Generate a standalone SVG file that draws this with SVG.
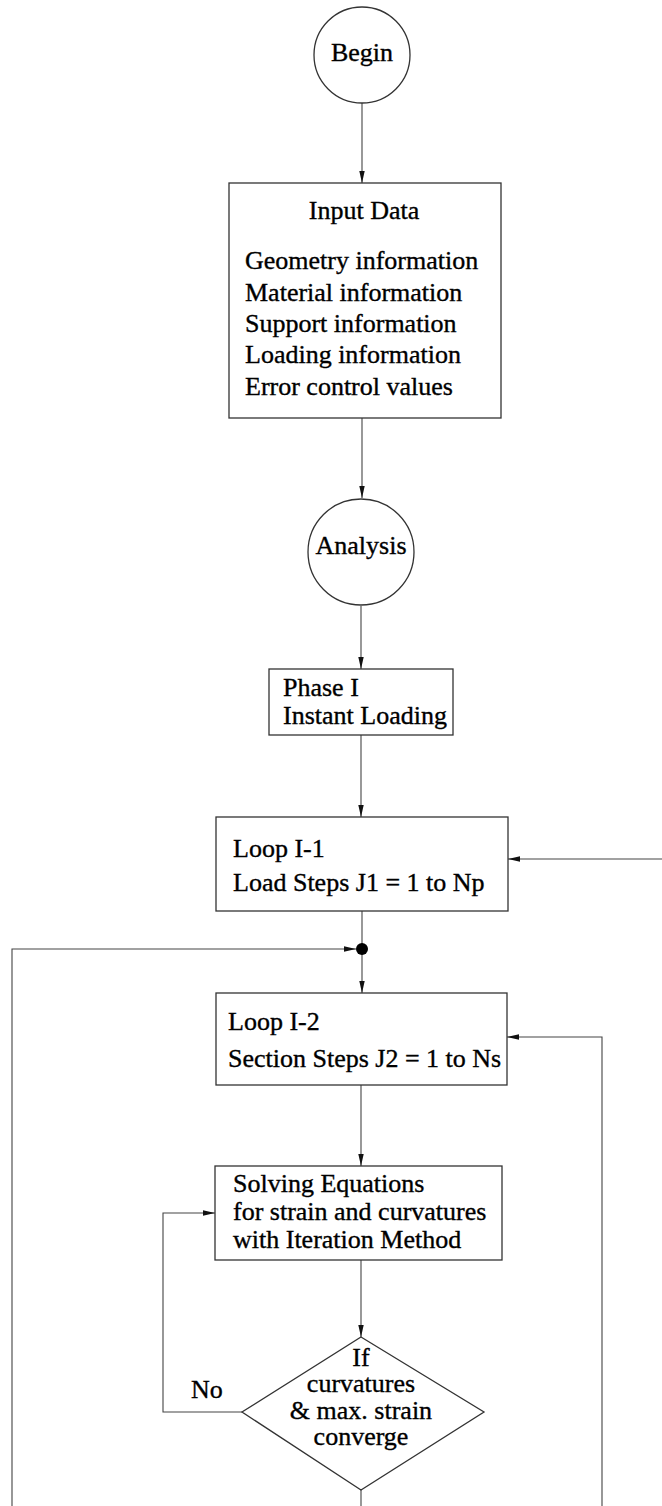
<svg xmlns="http://www.w3.org/2000/svg" width="662" height="1506" viewBox="0 0 662 1506">
<style>
.sh{fill:#fff;stroke:#333;stroke-width:1.3}
.t{font-family:"Liberation Serif","Times New Roman",serif;font-size:26px;fill:#000;stroke:#000;stroke-width:0.35}
.c{text-anchor:middle}
.ln{fill:none;stroke:#444;stroke-width:1.1}
</style>
<defs>
<marker id="ah" viewBox="0 0 12 7" refX="12" refY="3.5" markerWidth="12" markerHeight="7" markerUnits="userSpaceOnUse" orient="auto">
<path d="M0,0.8 L12,3.5 L0,6.2 z" fill="#111"/>
</marker>
</defs>
<rect width="662" height="1506" fill="#fff"/>
<g id="connectors">
<path class="ln" d="M362,103 V183" marker-end="url(#ah)"/>
<path class="ln" d="M362,418 V498" marker-end="url(#ah)"/>
<path class="ln" d="M361,606 V669" marker-end="url(#ah)"/>
<path class="ln" d="M361,735 V817" marker-end="url(#ah)"/>
<path class="ln" d="M362,911 V945"/>
<path class="ln" d="M362,953 V993" marker-end="url(#ah)"/>
<path class="ln" d="M12,1506 V949 H356" marker-end="url(#ah)"/>
<path class="ln" d="M662,859 H508" marker-end="url(#ah)"/>
<path class="ln" d="M602,1506 V1037 H507" marker-end="url(#ah)"/>
<path class="ln" d="M361,1085 V1166" marker-end="url(#ah)"/>
<path class="ln" d="M361,1260 V1337" marker-end="url(#ah)"/>
<path class="ln" d="M242,1412 H163 V1213 H215" marker-end="url(#ah)"/>
<path class="ln" d="M361,1490 V1506"/>
<circle id="junction" cx="362" cy="949" r="6" fill="#000"/>
<text class="t" x="191" y="1398">No</text>
</g>
<g id="begin">
<circle class="sh" cx="362" cy="55" r="48"/>
<text class="t c" x="362" y="61">Begin</text>
</g>
<g id="input">
<rect class="sh" x="229" y="183" width="272" height="235"/>
<text class="t c" x="364" y="219">Input Data</text>
<text class="t" x="245" y="269">Geometry information</text>
<text class="t" x="245" y="301">Material information</text>
<text class="t" x="245" y="332">Support information</text>
<text class="t" x="245" y="363">Loading information</text>
<text class="t" x="245" y="395">Error control values</text>
</g>
<g id="analysis">
<circle class="sh" cx="361" cy="552" r="53"/>
<text class="t c" x="361" y="554">Analysis</text>
</g>
<g id="phase1">
<rect class="sh" x="269" y="669" width="184" height="66"/>
<text class="t" x="283" y="696">Phase I</text>
<text class="t" x="283" y="724">Instant Loading</text>
</g>
<g id="loop1">
<rect class="sh" x="216" y="817" width="292" height="94"/>
<text class="t" x="233" y="857">Loop I-1</text>
<text class="t" x="233" y="891">Load Steps J1 = 1 to Np</text>
</g>
<g id="loop2">
<rect class="sh" x="216" y="993" width="291" height="92"/>
<text class="t" x="228" y="1030">Loop I-2</text>
<text class="t" x="228" y="1067">Section Steps J2 = 1 to Ns</text>
</g>
<g id="solve">
<rect class="sh" x="215" y="1166" width="287" height="94"/>
<text class="t" x="233" y="1192">Solving Equations</text>
<text class="t" x="233" y="1220">for strain and curvatures</text>
<text class="t" x="233" y="1248">with Iteration Method</text>
</g>
<g id="decision">
<polygon class="sh" points="361,1337 484,1412 361,1490 242,1412"/>
<text class="t c" x="361" y="1366">If</text>
<text class="t c" x="361" y="1392">curvatures</text>
<text class="t c" x="361" y="1419">&amp; max. strain</text>
<text class="t c" x="361" y="1445">converge</text>
</g>
</svg>
